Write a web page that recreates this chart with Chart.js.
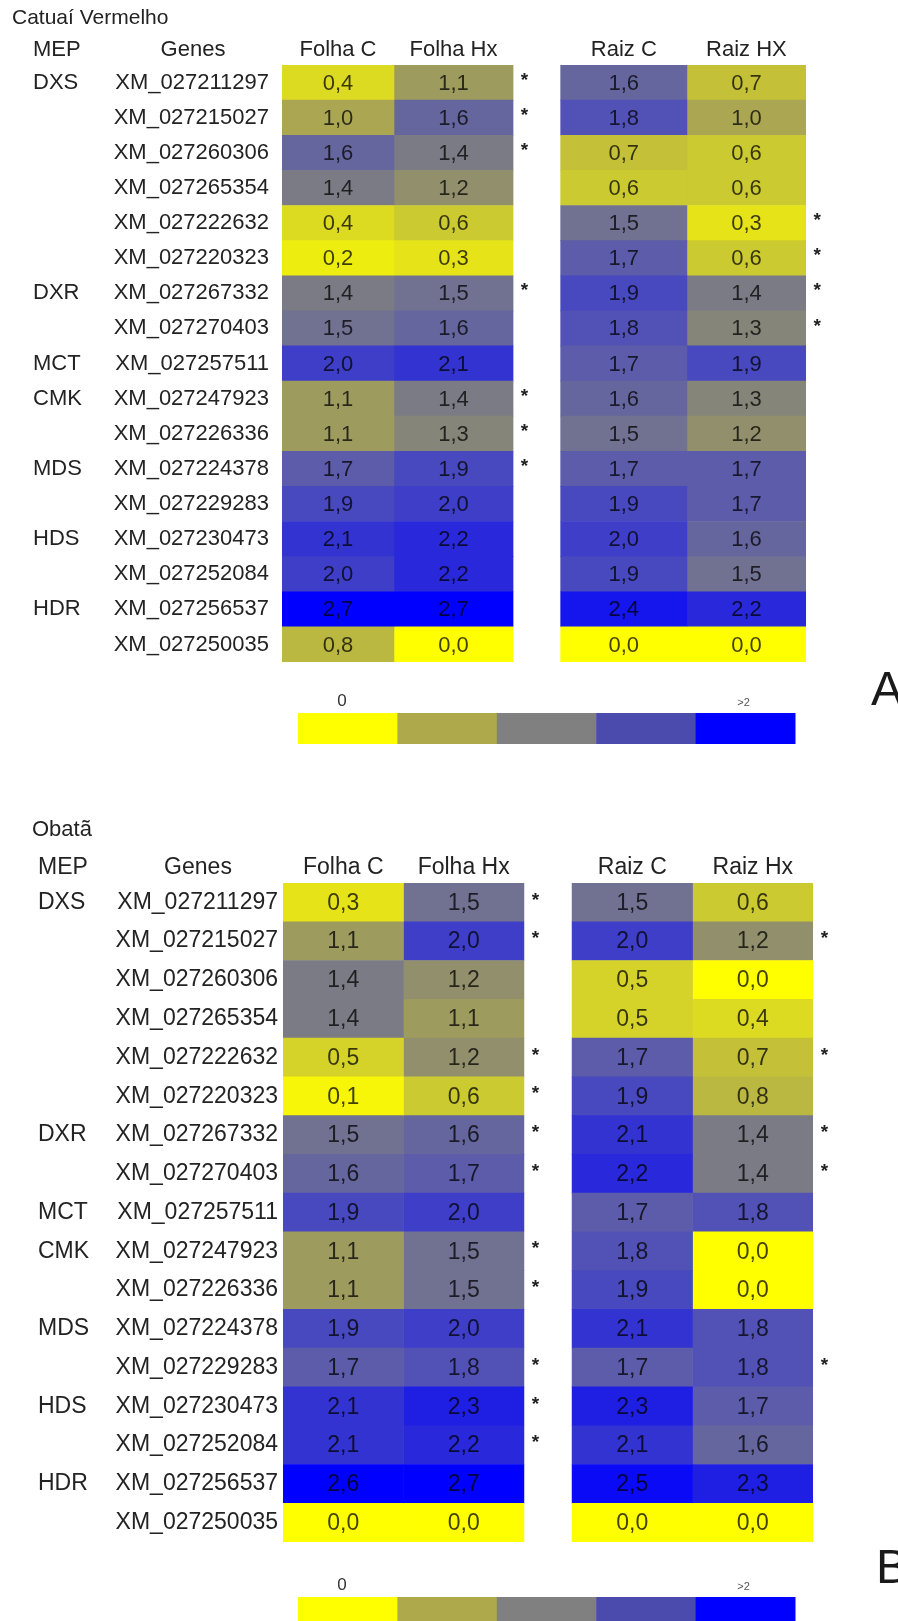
<!DOCTYPE html>
<html>
<head>
<meta charset="utf-8">
<script src="https://cdn.jsdelivr.net/npm/chart.js@4.4.1/dist/chart.umd.min.js"></script>
<style>
  html, body { margin: 0; padding: 0; background: #fff; }
  #wrap { position: relative; width: 898px; height: 1621px; overflow: hidden; }
  canvas { position: absolute; left: 0; }
</style>
</head>
<body>
<div id="wrap">
  <canvas id="chartA" width="898" height="790" style="top:0"></canvas>
  <canvas id="chartB" width="898" height="831" style="top:790px"></canvas>
</div>
<script>
// data
const genes = [
  "XM_027211297", "XM_027215027", "XM_027260306", "XM_027265354", "XM_027222632",
  "XM_027220323", "XM_027267332", "XM_027270403", "XM_027257511", "XM_027247923",
  "XM_027226336", "XM_027224378", "XM_027229283", "XM_027230473", "XM_027252084",
  "XM_027256537", "XM_027250035"
];
const mepGroups = ["DXS", "", "", "", "", "", "DXR", "", "MCT", "CMK", "", "MDS", "", "HDS", "", "HDR", ""];

const columnsA = ["Folha C", "Folha Hx", "Raiz C", "Raiz HX"];
const columnsB = ["Folha C", "Folha Hx", "Raiz C", "Raiz Hx"];

// Catuaí Vermelho
const catuaiFolhaC  = [0.4, 1.0, 1.6, 1.4, 0.4, 0.2, 1.4, 1.5, 2.0, 1.1, 1.1, 1.7, 1.9, 2.1, 2.0, 2.7, 0.8];
const catuaiFolhaHx = [1.1, 1.6, 1.4, 1.2, 0.6, 0.3, 1.5, 1.6, 2.1, 1.4, 1.3, 1.9, 2.0, 2.2, 2.2, 2.7, 0.0];
const catuaiRaizC   = [1.6, 1.8, 0.7, 0.6, 1.5, 1.7, 1.9, 1.8, 1.7, 1.6, 1.5, 1.7, 1.9, 2.0, 1.9, 2.4, 0.0];
const catuaiRaizHx  = [0.7, 1.0, 0.6, 0.6, 0.3, 0.6, 1.4, 1.3, 1.9, 1.3, 1.2, 1.7, 1.7, 1.6, 1.5, 2.2, 0.0];
const catuaiSigFolha = [1, 1, 1, 0, 0, 0, 1, 0, 0, 1, 1, 1, 0, 0, 0, 0, 0];
const catuaiSigRaiz  = [0, 0, 0, 0, 1, 1, 1, 1, 0, 0, 0, 0, 0, 0, 0, 0, 0];

// Obatã
const obataFolhaC  = [0.3, 1.1, 1.4, 1.4, 0.5, 0.1, 1.5, 1.6, 1.9, 1.1, 1.1, 1.9, 1.7, 2.1, 2.1, 2.6, 0.0];
const obataFolhaHx = [1.5, 2.0, 1.2, 1.1, 1.2, 0.6, 1.6, 1.7, 2.0, 1.5, 1.5, 2.0, 1.8, 2.3, 2.2, 2.7, 0.0];
const obataRaizC   = [1.5, 2.0, 0.5, 0.5, 1.7, 1.9, 2.1, 2.2, 1.7, 1.8, 1.9, 2.1, 1.7, 2.3, 2.1, 2.5, 0.0];
const obataRaizHx  = [0.6, 1.2, 0.0, 0.4, 0.7, 0.8, 1.4, 1.4, 1.8, 0.0, 0.0, 1.8, 1.8, 1.7, 1.6, 2.3, 0.0];
const obataSigFolha = [1, 1, 0, 0, 1, 1, 1, 1, 0, 1, 1, 0, 1, 1, 1, 0, 0];
const obataSigRaiz  = [0, 1, 0, 0, 1, 0, 1, 1, 0, 0, 0, 0, 1, 0, 0, 0, 0];

const legendLabels = ["0", "", "", "", ">2"];

// styles
const FONT = "'Liberation Sans', Arial, sans-serif";
const TEXT = "#232323";
const legendColors = ["#ffff00", "#aeaa4c", "#808080", "#4b4bae", "#0000ff"];
const colorStops = [
  [0.0, [255, 255, 0]],
  [1.0, [170, 166, 82]],
  [1.35, [128, 128, 128]],
  [1.8, [82, 82, 182]],
  [2.6, [0, 0, 255]],
];

function heatColor(v) {
  if (v <= colorStops[0][0]) return "rgb(" + colorStops[0][1].join(",") + ")";
  for (let i = 1; i < colorStops.length; i++) {
    const [v1, c1] = colorStops[i];
    const [v0, c0] = colorStops[i - 1];
    if (v <= v1) {
      const t = (v - v0) / (v1 - v0);
      const c = c0.map((a, k) => Math.round(a + (c1[k] - a) * t));
      return "rgb(" + c.join(",") + ")";
    }
  }
  return "rgb(" + colorStops[colorStops.length - 1][1].join(",") + ")";
}

function fmt(v) {
  return v.toFixed(1).replace(".", ",");
}

// panel
function makePanel(id, p) {
  const colSpan = p.colSpan;
  const extras = {
    id: "extras",
    afterDraw(chart) {
      const ctx = chart.ctx;
      const xs = chart.scales.x;
      const ys = chart.scales.y;
      ctx.save();

      // cell values
      ctx.font = p.fontSize + "px " + FONT;
      ctx.textAlign = "center";
      ctx.textBaseline = "middle";
      ctx.fillStyle = "rgba(0,0,0,0.74)";
      chart.data.datasets.forEach((ds, i) => {
        chart.getDatasetMeta(i).data.forEach((el, j) => {
          ctx.fillText(fmt(ds.values[j]), (el.x + el.base) / 2, el.y + 1);
        });
      });

      // significance marks
      ctx.fillStyle = "#222";
      ctx.font = "bold 19px " + FONT;
      p.sig.forEach((flags, g) => {
        const x = xs.getPixelForValue(colSpan[g * 2 + 1][1] + 0.095);
        flags.forEach((f, j) => {
          if (f) ctx.fillText("*", x, ys.getPixelForValue(j) - 2);
        });
      });

      // MEP labels
      ctx.fillStyle = TEXT;
      ctx.font = p.fontSize + "px " + FONT;
      ctx.textAlign = "left";
      mepGroups.forEach((m, j) => {
        if (m) ctx.fillText(m, p.mepX, ys.getPixelForValue(j));
      });

      // headers
      ctx.fillText("MEP", p.mepX, p.headerY);
      ctx.textAlign = "center";
      ctx.fillText("Genes", p.genesX, p.headerY);
      p.columns.forEach((c, i) => {
        ctx.fillText(c, xs.getPixelForValue((colSpan[i][0] + colSpan[i][1]) / 2), p.headerY);
      });

      // title
      ctx.textAlign = "left";
      ctx.font = p.titleSize + "px " + FONT;
      ctx.fillText(p.title, p.titleX, p.titleY);

      // colour key
      const kx0 = 298, kw = 99.4, kh = 31;
      legendColors.forEach((c, i) => {
        ctx.fillStyle = c;
        ctx.fillRect(kx0 + i * kw, p.keyY, kw + 0.5, kh);
      });
      ctx.textAlign = "center";
      legendLabels.forEach((l, i) => {
        if (!l) return;
        ctx.fillStyle = i === 0 ? "#333" : "#555";
        ctx.font = (i === 0 ? "17px " : "11px ") + FONT;
        ctx.fillText(l, kx0 + i * kw + (i === 0 ? 44 : 48), p.keyY - (i === 0 ? 12 : 10));
      });

      // panel letter
      ctx.fillStyle = "#1a1a1a";
      ctx.font = "48px " + FONT;
      ctx.textAlign = "left";
      ctx.textBaseline = "alphabetic";
      ctx.fillText(p.letter, p.letterX, p.letterY);

      ctx.restore();
    },
  };

  const datasets = p.values.map((col, c) => ({
    label: p.columns[c],
    data: col.map(() => colSpan[c]),
    values: col,
    backgroundColor: col.map(heatColor),
    borderWidth: 0,
    grouped: false,
    barPercentage: 1,
    categoryPercentage: 1,
  }));

  return new Chart(document.getElementById(id), {
    type: "bar",
    data: { labels: genes, datasets },
    options: {
      responsive: false,
      animation: false,
      indexAxis: "y",
      events: [],
      layout: { padding: { top: p.top, bottom: p.bottom, right: p.right, left: 0 } },
      plugins: { legend: { display: false }, tooltip: { enabled: false } },
      scales: {
        x: { type: "linear", min: 0, max: 4.4, display: false },
        y: {
          type: "category",
          grid: { display: false, drawTicks: false },
          border: { display: false },
          ticks: {
            autoSkip: false,
            padding: p.tickPad,
            color: TEXT,
            font: { family: FONT, size: p.fontSize },
          },
          afterFit(axis) { axis.width = p.axisW; },
        },
      },
    },
    plugins: [extras],
  });
}

makePanel("chartA", {
  title: "Catuaí Vermelho", titleSize: 21, titleX: 12, titleY: 18, headerY: 50,
  columns: columnsA,
  colSpan: [[0, 0.94], [0.94, 1.94], [2.34, 3.4], [3.4, 4.4]],
  values: [catuaiFolhaC, catuaiFolhaHx, catuaiRaizC, catuaiRaizHx],
  sig: [catuaiSigFolha, catuaiSigRaiz],
  top: 65, bottom: 790 - 662, right: 898 - 806, axisW: 282, tickPad: 13,
  fontSize: 22, mepX: 33, genesX: 193,
  keyY: 713, letter: "A", letterX: 871, letterY: 705,
});

makePanel("chartB", {
  title: "Obatã", titleSize: 22, titleX: 32, titleY: 40, headerY: 78,
  columns: columnsB,
  colSpan: [[0, 1], [1, 2], [2.4, 3.4], [3.4, 4.4]],
  values: [obataFolhaC, obataFolhaHx, obataRaizC, obataRaizHx],
  sig: [obataSigFolha, obataSigRaiz],
  top: 93, bottom: 831 - 752, right: 898 - 813, axisW: 283, tickPad: 5,
  fontSize: 23, mepX: 38, genesX: 198,
  keyY: 807, letter: "B", letterX: 876, letterY: 793,
});
</script>
</body>
</html>
